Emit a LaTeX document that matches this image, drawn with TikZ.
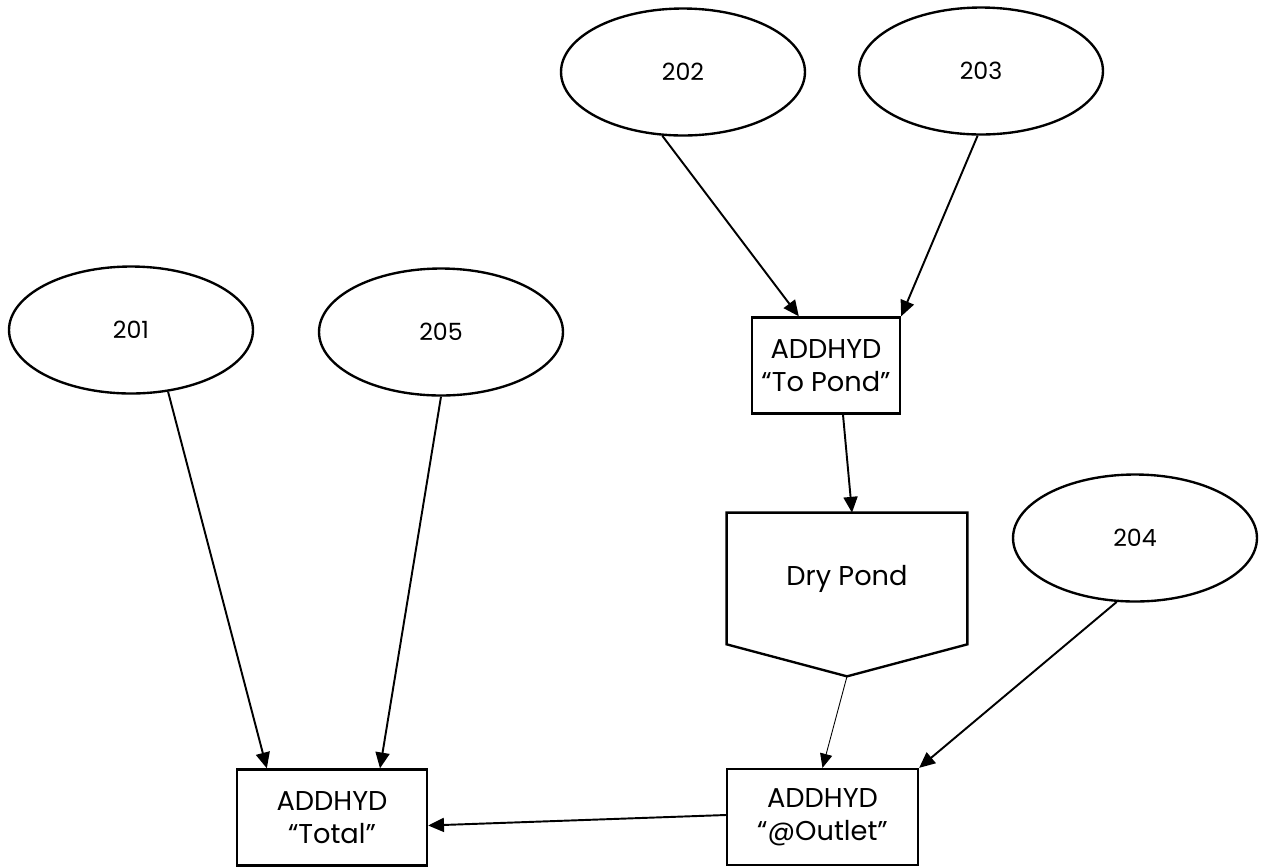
\documentclass[tikz,border=0pt]{standalone}
\usepackage{fontspec}
\setmainfont{Poppins}
\usepackage{xcolor}
\definecolor{cLine}{HTML}{000000}
\usepackage{tikz}
\usetikzlibrary{positioning,arrows.meta,shapes.geometric,calc}
\tikzset{
  node-ellipse/.style={draw=cLine,line width=1.35pt,ellipse,inner sep=0pt,
    minimum width=4.88cm,minimum height=2.54cm,font=\fontsize{13.5}{16}\selectfont},
  node-box/.style={draw=cLine,line width=1.35pt,inner sep=0pt,align=center,
    minimum height=1.92cm,font=\fontsize{15.5}{19}\selectfont},
  node-pond/.style={inner sep=0pt,minimum width=4.8cm,minimum height=2.62cm,
    font=\fontsize{15.5}{19}\selectfont},
  arrow/.style={-{Triangle[length=9pt,width=8pt]},line width=1.1pt,draw=cLine},
  arrow-thin/.style={-{Triangle[length=8pt,width=7pt]},line width=0.5pt,draw=cLine},
}
\begin{document}
\begin{tikzpicture}[x=0.02cm,y=-0.02cm]
  \useasboundingbox (0,0) rectangle (1262,867);
  % subcatchments
  \foreach \name/\x/\y in {201/131/330,205/441/332,202/683/72,203/981/71,204/1135/538}
    \node[node-ellipse] (e\name) at (\x,\y) {\name};
  % hydrograph nodes
  \node[node-box,minimum width=2.96cm] (addpond) at (826,365.5) {ADDHYD\\“To Pond”};
  \node[node-pond] (pond) at (847,578.5) {Dry Pond};
  \coordinate (pondtip) at ([yshift=-0.64cm]pond.south);
  \draw[cLine,line width=1.35pt] (pond.north west) -- (pond.north east)
    -- (pond.south east) -- (pondtip) -- (pond.south west) -- cycle;
  \node[node-box,minimum width=3.82cm] (outlet) at (822.5,817) {ADDHYD\\“@Outlet”};
  \node[node-box,minimum width=3.8cm] (total) at (332,817.5) {ADDHYD\\“Total”};
  % connections
  \draw[arrow] (e202.-108) -- ([xshift=0.96cm]addpond.north west);
  \draw[arrow] (e203.-93) -- (addpond.north east);
  \draw[arrow] ([xshift=0.34cm]addpond.south) -- ([xshift=0.1cm]pond.north);
  \draw[arrow-thin] (pondtip) -- (outlet.north);
  \draw[arrow] (e204.-106) -- (outlet.north east);
  \draw[arrow] (e201.-59) -- ([xshift=0.62cm]total.north west);
  \draw[arrow] (e205.-90) -- ([xshift=0.96cm]total.north);
  \draw[arrow] ([yshift=0.04cm]outlet.west) -- ([yshift=-0.16cm]total.east);
\end{tikzpicture}
\end{document}
